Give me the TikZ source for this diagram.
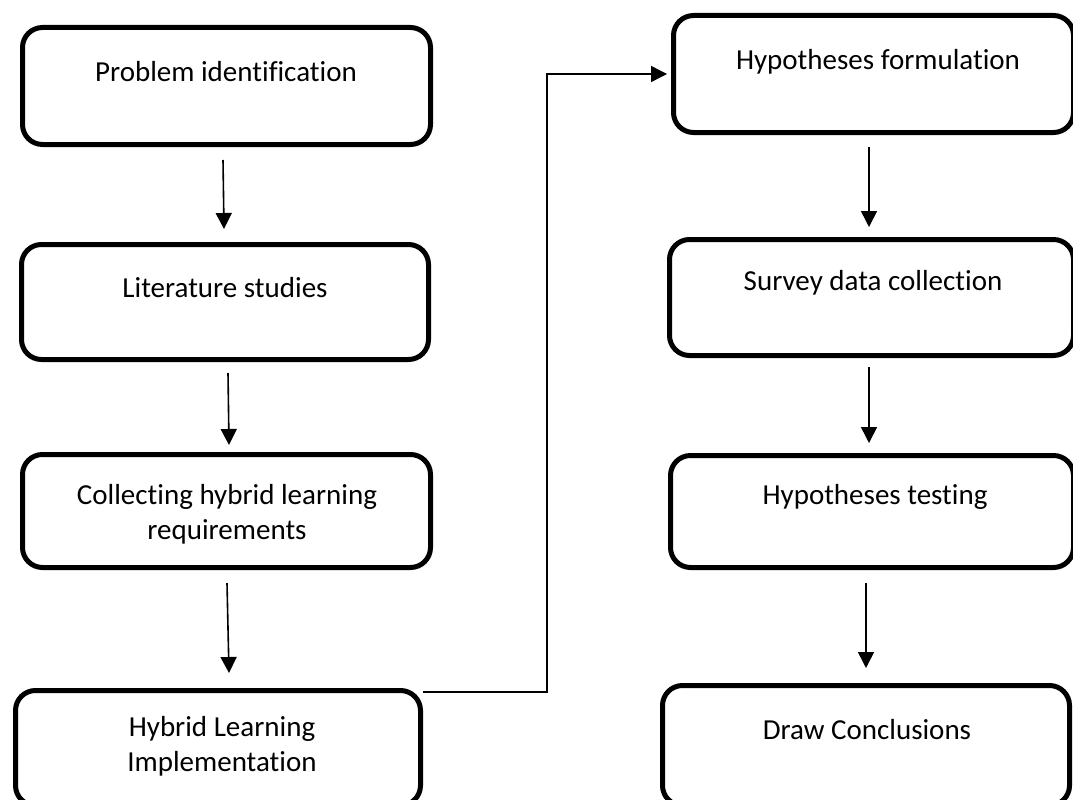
\documentclass[tikz,border=0pt]{standalone}
\usepackage{fontspec}
\setmainfont[Ligatures={NoCommon}]{Carlito}
\usetikzlibrary{arrows.meta}
\begin{document}
\begin{tikzpicture}[x=1pt,y=1pt,
  box/.style={draw=black, line width=5pt, rounded corners=20pt, inner sep=0pt, fill=white},
  lbl/.style={align=center, inner sep=0pt, font=\fontsize{29}{35}\selectfont},
  arr/.style={line width=1.6pt, -{Triangle[width=16pt,length=16pt]}},
  conn/.style={line width=1.5pt, -{Triangle[width=16pt,length=16pt]}}]
\useasboundingbox (0,0) rectangle (1073,-800);
% left column
\node[box, minimum width=408pt, minimum height=117pt] (b1) at (226.5,-86) {};
\node[box, minimum width=407pt, minimum height=115pt] (b2) at (225,-302) {};
\node[box, minimum width=408pt, minimum height=113pt] (b3) at (226.5,-511) {};
\node[box, minimum width=405pt, minimum height=115pt] (b4) at (218,-748) {};
% right column
\node[box, minimum width=400pt, minimum height=117pt] (b5) at (873.5,-74) {};
\node[box, minimum width=404pt, minimum height=116pt] (b6) at (871.5,-297.5) {};
\node[box, minimum width=403pt, minimum height=112pt] (b7) at (872,-511.5) {};
\node[box, minimum width=407pt, minimum height=120pt] (b8) at (866,-745.5) {};
% texts
\node[lbl] (t1) at (226,-72) {Problem identification};
\node[lbl] (t2) at (225,-288) {Literature studies};
\node[lbl] (t3) at (227,-514) {Collecting hybrid learning\\requirements};
\node[lbl] (t4) at (222,-746) {Hybrid Learning\\Implementation};
\node[lbl] (t5) at (878,-62) {Hypotheses formulation};
\node[lbl] (t6) at (873,-283) {Survey data collection};
\node[lbl] (t7) at (875,-497) {Hypotheses testing};
\node[lbl] (t8) at (867,-730) {Draw Conclusions};
% arrows
\draw[arr] ([xshift=-3.5pt,yshift=-13pt]b1.south) -- ([xshift=-1pt,yshift=13pt]b2.north);
\draw[arr] ([xshift=3pt,yshift=-11pt]b2.south) -- ([xshift=2.5pt,yshift=7pt]b3.north);
\draw[arr] ([xshift=0.5pt,yshift=-13pt]b3.south) -- ([xshift=11pt,yshift=15pt]b4.north);
\draw[arr] ([xshift=-4.5pt,yshift=-12pt]b5.south) -- ([xshift=-2.5pt,yshift=10pt]b6.north);
\draw[arr] ([xshift=-2.5pt,yshift=-9pt]b6.south) -- ([xshift=-3pt,yshift=10pt]b7.north);
\draw[arr] ([xshift=-6pt,yshift=-13pt]b7.south) -- ([yshift=15pt]b8.north);
% elbow connector
\coordinate (elb) at (547,-74);
\draw[conn] ([yshift=-4pt]b4.north east) -| (elb) -- ([xshift=-4pt]b5.west);
\end{tikzpicture}
\end{document}
